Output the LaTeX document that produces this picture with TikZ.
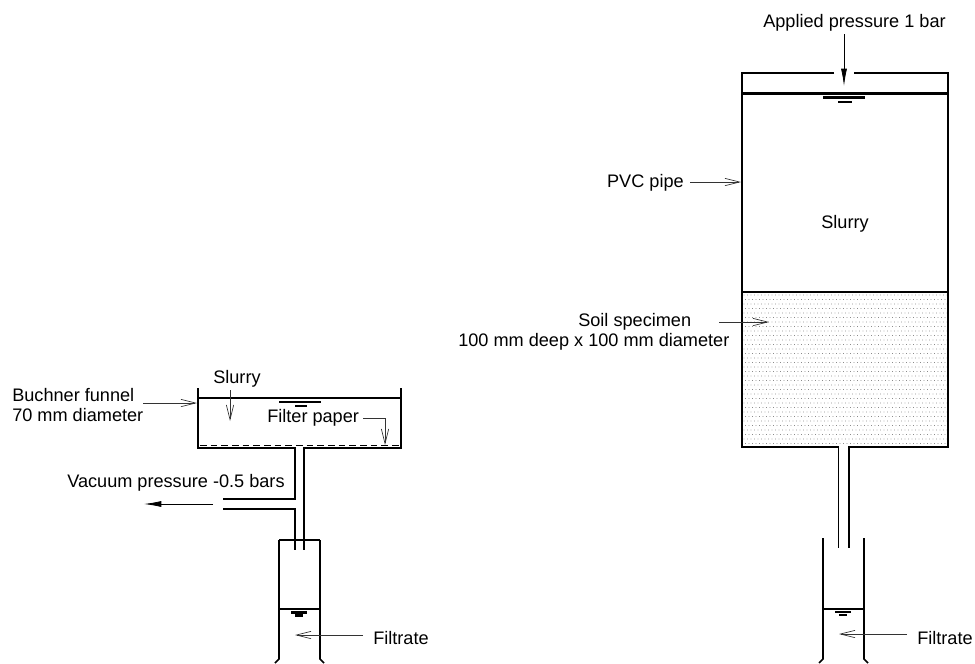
\documentclass[tikz,border=0pt]{standalone}
\usepackage{fontspec}
\setmainfont{Liberation Sans}
\usetikzlibrary{arrows.meta}
\tikzset{
  px/.style={x=0.75pt,y=-0.75pt},
  wall/.style={line width=1.6pt,black,line cap=butt},
  thinwall/.style={line width=1.2pt,black},
  lead/.style={line width=0.5pt,black!80},
  openhead/.style={lead,-{Straight Barb[length=11pt,width=5.5pt,line width=0.5pt]}},
  solidhead/.style={line width=0.6pt,black,-{Latex[length=13pt,width=4.5pt]}},
  lab/.style={font=\fontsize{13.6pt}{14.8pt}\selectfont,inner sep=0pt,align=left},
  labc/.style={font=\fontsize{13.6pt}{15.4pt}\selectfont,inner sep=0pt,align=left}
}
\begin{document}
\begin{tikzpicture}[px]
\useasboundingbox (0,0) rectangle (975,664);
% ---- soil fill
\foreach \j in {0,...,33}{
  \pgfmathsetmacro{\yy}{295+4.5*\j}
  \pgfmathsetmacro{\off}{mod(\j,2)*1.5}
  \foreach \i in {0,...,58}{
    \fill[black!70] ({744+\off+3.5*\i},\yy) circle[radius=0.33pt];
  }
}
% ---- coordinates, left apparatus
\coordinate (ftl) at (198,388);
\coordinate (fbl) at (198,448);
\coordinate (fbr) at (401,448);
\coordinate (ftr) at (401,388);
\coordinate (rl) at (198,398);
\coordinate (rr) at (401,398);
\coordinate (pl0) at (295,448);
\coordinate (pl1) at (295,499);
\coordinate (pl2) at (295,509);
\coordinate (pl3) at (295,550);
\coordinate (pr0) at (304,448);
\coordinate (pr1) at (304,550);
\coordinate (b1) at (223,499);
\coordinate (b2) at (223,509);
\draw[wall] (ftl)--(fbl)--(fbr)--(ftr);
\draw[wall] (rl)--(rr);
\draw[line width=0.5pt,dash pattern=on 5pt off 3pt] (200,445)--(400,445);
\fill[white] (296,447) rectangle (303,449);
\draw[wall] (pl0)--(pl1)--(b1);
\draw[wall] (b2)--(pl2)--(pl3);
\draw[wall] (pr0)--(pr1);
\draw[wall] (279,540)--(320,540);
\draw[thinwall] (275,663)--(279,659)--(279,540);
\draw[thinwall] (324,663)--(320,659)--(320,540);
\draw[thinwall] (279,609)--(320,609);
\draw[wall] (279,402)--(321,402);
\draw[wall] (295,406)--(307,406);
\draw[wall] (291,612.5)--(307,612.5);
\draw[wall] (295,615.5)--(303,615.5);
% ---- labels, left
\node[lab,anchor=west] (lbf) at (12,405) {Buchner funnel\\70 mm diameter};
\node[lab,anchor=west] (lsl) at (213,379) {Slurry};
\node[lab,anchor=west] (lfp) at (267,418) {Filter paper};
\node[lab,anchor=west] (lvp) at (67,483) {Vacuum pressure -0.5 bars};
\node[lab,anchor=west] (lft) at (373,638) {Filtrate};
\coordinate (a1) at (143,403);\coordinate (a2) at (197,403);
\draw[openhead] (a1)--(a2);
\coordinate (a3) at (230,390);\coordinate (a4) at (230,421);
\draw[openhead] (a3)--(a4);
\coordinate (a5) at (363,418);\coordinate (a6) at (385,418);\coordinate (a7) at (385,445);
\draw[openhead] (a5)--(a6)--(a7);
\coordinate (a8) at (213,504);\coordinate (a9) at (144,504);
\draw[solidhead] (a8)--(a9);
\coordinate (a10) at (363,635);\coordinate (a11) at (295,635);
\draw[openhead] (a10)--(a11);
% ---- right apparatus
\draw[wall] (834,73)--(742,73)--(742,447)--(948,447)--(948,73)--(854,73);
\draw[wall] (742,93.5)--(948,93.5);
\draw[wall] (742,292)--(948,292);
\draw[wall] (823,97.5)--(865,97.5);
\draw[wall] (838,102)--(852,102);
\fill[white] (839.2,446) rectangle (848.2,448);
\draw[thinwall] (838.5,447)--(838.5,548);
\draw[wall] (849,447)--(849,548);
\draw[thinwall] (819,663)--(823,659)--(823,538);
\draw[thinwall] (868,663)--(864,659)--(864,538);
\draw[thinwall] (823,609)--(864,609);
\draw[wall] (835,612)--(851,612);
\draw[wall] (839,615)--(847,615);
\node[lab,anchor=west] (rap) at (763,23) {Applied pressure 1 bar};
\node[lab,anchor=east] (rpv) at (684,183) {PVC pipe};
\node[lab,anchor=center] (rsl) at (845,224) {Slurry};
\node[labc,anchor=west] (rsp) at (458,332) {\hspace{90pt}Soil specimen\\100 mm deep x 100 mm diameter};
\node[lab,anchor=west] (rft) at (917,638) {Filtrate};
\coordinate (b1a) at (844,34);\coordinate (b1b) at (844,86);
\draw[solidhead] (b1a)--(b1b);
\coordinate (b2a) at (690,182);\coordinate (b2b) at (741,182);
\draw[openhead] (b2a)--(b2b);
\coordinate (b3a) at (719,322);\coordinate (b3b) at (769,322);
\draw[openhead] (b3a)--(b3b);
\coordinate (b4a) at (907,634);\coordinate (b4b) at (839,634);
\draw[openhead] (b4a)--(b4b);
\end{tikzpicture}
\end{document}
